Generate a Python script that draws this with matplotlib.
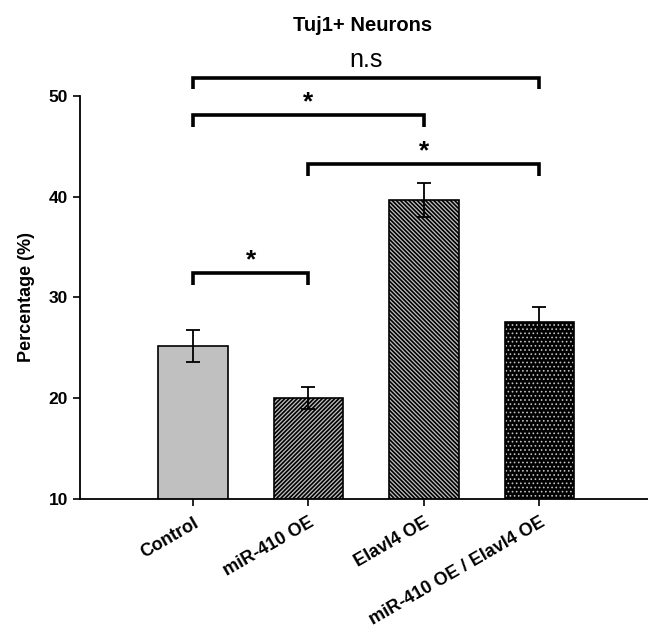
import matplotlib.pyplot as plt
import numpy as np

plt.rcParams['font.family'] = ['Liberation Sans', 'DejaVu Sans']

# данні
groups = ["Control", "miR-410 OE", "Elavl4 OE", "miR-410 OE / Elavl4 OE"]
means = [25.2, 20.0, 39.7, 27.6]
errors = [1.6, 1.1, 1.7, 1.45]
hatches = [None, '////////', '\\\\\\\\\\\\\\\\', '....']
faces = ['#c0c0c0', '#c0c0c0', '#c0c0c0', 'black']
hatch_cols = ['black', 'black', 'black', '#c0c0c0']
hatch_lw = [1.2, 1.2, 1.2, 0.7]

# порівняння: (ліва група, права група, висота, позначка)
comparisons = [(0, 1, 32.4, '*'), (1, 3, 43.2, '*'), (0, 2, 48.1, '*'), (0, 3, 51.8, 'n.s')]

fig = plt.figure(figsize=(6.48, 6.29), dpi=100)
ax = fig.add_axes([0.1235, 0.2067, 0.8765, 0.6407])

x = np.arange(len(groups))
for i in range(len(groups)):
    with plt.rc_context({'hatch.linewidth': hatch_lw[i]}):
        ax.bar(x[i], means[i], width=0.6, bottom=0, color=faces[i], hatch=hatches[i],
               edgecolor=hatch_cols[i], linewidth=0, zorder=2)
    ax.bar(x[i], means[i], width=0.6, bottom=0, fill=False, edgecolor='black',
           linewidth=1.2, zorder=3)
ax.errorbar(x, means, yerr=errors, fmt='none', ecolor='black', elinewidth=1.3,
            capsize=5, capthick=1.3, zorder=4)

# дужки значущості
leg = 1.15
for a, b, h, label in comparisons:
    ax.plot([x[a], x[a], x[b], x[b]], [h - leg, h, h, h - leg], color='black',
            lw=2.6, clip_on=False, solid_capstyle='butt', solid_joinstyle='miter')
    if label == '*':
        ax.text((x[a] + x[b]) / 2, h + 0.1, '*', ha='center', va='bottom',
                fontsize=19, fontweight='bold', clip_on=False)
    else:
        ax.text((x[a] + x[b]) / 2, h + 0.6, label, ha='center', va='bottom',
                fontsize=18, clip_on=False)

ax.set_ylim(10, 50)
ax.set_xlim(-0.978, 3.94)
ax.set_yticks([10, 20, 30, 40, 50])
ax.set_yticklabels(['10', '20', '30', '40', '50'], fontsize=12.5, fontweight='bold')
ax.set_xticks(x)
ax.set_xticklabels(groups, rotation=30, ha='right', rotation_mode='anchor',
                   fontsize=13, fontweight='bold')
ax.tick_params(axis='both', direction='out', length=5, width=1.2)
ax.tick_params(axis='x', pad=6)
ax.set_ylabel("Percentage (%)", fontsize=13, fontweight='bold', labelpad=10)

for s in ['top', 'right']:
    ax.spines[s].set_visible(False)
for s in ['left', 'bottom']:
    ax.spines[s].set_linewidth(1.3)

fig.text(0.56, 0.96, "Tuj1+ Neurons", ha='center', va='center', fontsize=14.5, fontweight='bold')

plt.savefig('out.png', dpi=100)
